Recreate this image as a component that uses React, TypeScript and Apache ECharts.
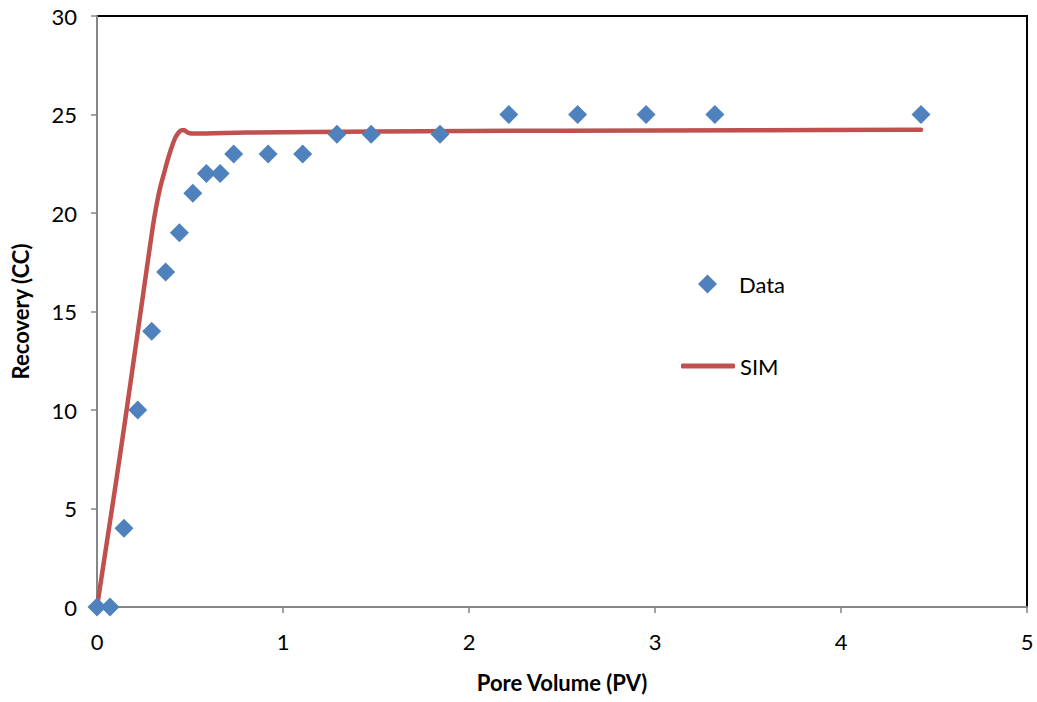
import React, { useEffect, useRef } from "react";
import * as echarts from "echarts";

const dataX = [0, 0.07, 0.145, 0.219, 0.294, 0.369, 0.443, 0.515, 0.588, 0.662, 0.735, 0.92, 1.106, 1.29, 1.474, 1.844, 2.214, 2.584, 2.952, 3.322, 4.43];
const dataY = [0, 0, 4, 10, 14, 17, 19, 21, 22, 22, 23, 23, 23, 24, 24, 24, 25, 25, 25, 25, 25];

const simX = [0, 0.05, 0.1, 0.15, 0.2, 0.25, 0.3, 0.32, 0.34, 0.36, 0.38, 0.4, 0.42, 0.44, 0.455, 0.47, 0.485, 0.5, 0.52, 0.8, 1.5, 2.5, 3.5, 4.43];
const simY = [0, 3.1, 6.2, 9.4, 12.7, 16.0, 19.3, 20.4, 21.3, 22.0, 22.7, 23.3, 23.8, 24.1, 24.2, 24.2, 24.1, 24.05, 24.03, 24.08, 24.14, 24.18, 24.2, 24.22];

const xTicks = [0, 5, 1];
const yTicks = [0, 30, 5];

const FONT = "Lato";

export default function App() {
  const ref = useRef<HTMLDivElement>(null);
  useEffect(() => {
    if (!ref.current) return;
    const chart = echarts.init(ref.current, undefined, { renderer: "svg" });
    const axisCommon = {
      axisLine: { show: true, lineStyle: { color: "#868686", width: 2 } },
      axisTick: { show: true, inside: false, length: 6, lineStyle: { color: "#868686", width: 1.5 } },
      splitLine: { show: false },
      nameTextStyle: { color: "#000", fontFamily: FONT, fontSize: 22, fontWeight: "bold" },
    };
    chart.setOption({
      animation: false,
      backgroundColor: "#fff",
      grid: {
        left: 97, right: 10, top: 16, bottom: 95,
        show: true, borderColor: "#000", borderWidth: 2, backgroundColor: "transparent",
      },
      xAxis: {
        type: "value",
        min: xTicks[0], max: xTicks[1], interval: xTicks[2],
        name: "Pore Volume (PV)", nameLocation: "middle", nameGap: 64,
        axisLabel: { color: "#000", fontFamily: FONT, fontSize: 22, margin: 23 },
        ...axisCommon,
      },
      yAxis: {
        type: "value",
        min: yTicks[0], max: yTicks[1], interval: yTicks[2],
        name: "Recovery (CC)", nameLocation: "middle", nameGap: 66,
        axisLabel: { color: "#000", fontFamily: FONT, fontSize: 22, margin: 20 },
        ...axisCommon,
      },
      legend: [
        {
          data: [{ name: "Data", icon: "diamond" }],
          orient: "vertical", left: 693, top: 268,
          itemWidth: 19, itemHeight: 19,
          itemStyle: { opacity: 1 },
          textStyle: { color: "#000", fontFamily: FONT, fontSize: 22, padding: [0, 0, 0, 17] },
        },
        {
          data: [{ name: "SIM", icon: "roundRect" }],
          orient: "vertical", left: 676, top: 350,
          itemWidth: 54, itemHeight: 5,
          textStyle: { color: "#000", fontFamily: FONT, fontSize: 22 },
        },
      ],
      series: [
        {
          name: "SIM",
          type: "line",
          data: simX.map((x, i) => [x, simY[i]]),
          symbol: "none",
          smooth: 0.3,
          lineStyle: { color: "#C0504D", width: 4.5, cap: "round", join: "round" },
          itemStyle: { color: "#C0504D" },
          z: 2,
        },
        {
          name: "Data",
          type: "scatter",
          data: dataX.map((x, i) => [x, dataY[i]]),
          symbol: "diamond",
          symbolSize: 19,
          itemStyle: { color: "#4F81BD", opacity: 1 },
          z: 3,
        },
      ],
    });
    return () => chart.dispose();
  }, []);
  return (
    <div
      ref={ref}
      style={{ position: "fixed", left: 0, top: 0, width: 1037, height: 702, background: "#fff" }}
    />
  );
}
